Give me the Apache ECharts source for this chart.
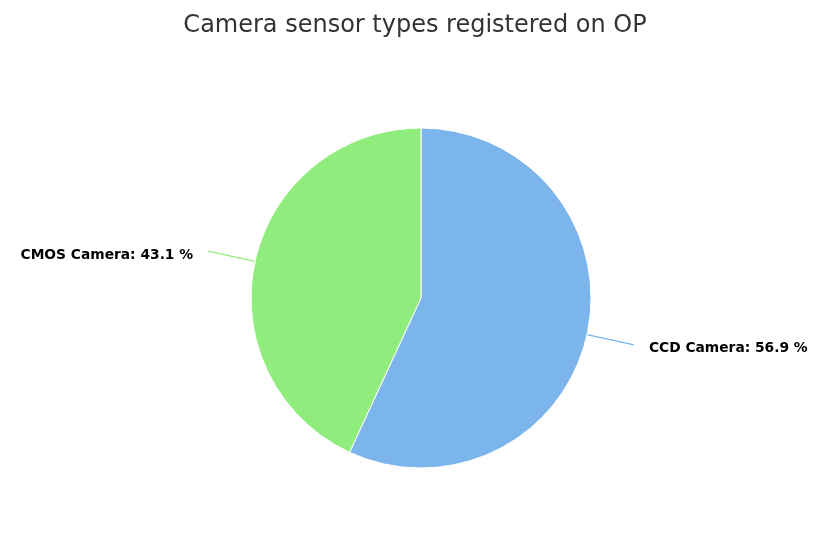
<!DOCTYPE html>
<html><head><meta charset="utf-8">
<script src="https://cdn.jsdelivr.net/npm/echarts@6/dist/echarts.min.js"></script>
<style>html,body{margin:0;padding:0;background:#fff}#c{width:830px;height:554px}</style>
</head><body><div id="c"></div>
<script>
const categories = ["CCD Camera", "CMOS Camera"];
const values = [56.9, 43.1];
const colors = ["#7cb5ec", "#90ed7d"];

const chart = echarts.init(document.getElementById('c'));
chart.setOption({
  animation: false,
  title: {
    text: "Camera sensor types registered on OP",
    left: 'center', top: 9,
    textStyle: { fontFamily: 'DejaVu Sans', fontSize: 24, fontWeight: 'normal', color: '#333333' }
  },
  series: [{
    type: 'pie',
    center: [421, 298],
    radius: [0, 170],
    startAngle: 90,
    clockwise: true,
    data: categories.map((c, i) => ({ name: c, value: values[i], itemStyle: { color: colors[i] } })),
    itemStyle: { borderColor: '#ffffff', borderWidth: 1 },
    label: {
      formatter: p => p.name + ': ' + p.value.toFixed(1) + ' %',
      fontFamily: 'DejaVu Sans', fontSize: 13.8, fontWeight: 'bold', color: '#000000',
      offset: [0, 4],
      distanceToLabelLine: 15
    },
    labelLine: { length: 48, length2: 0, smooth: false, lineStyle: { width: 1.3 } },
    emphasis: { disabled: true }
  }]
});
</script></body></html>
